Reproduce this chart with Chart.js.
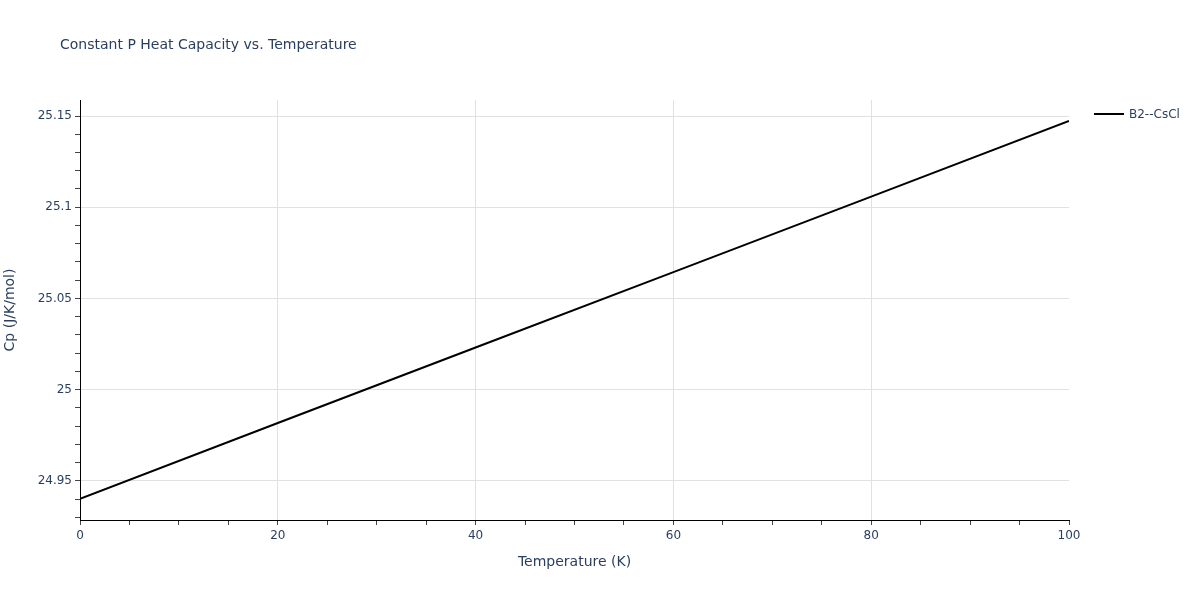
<!DOCTYPE html>
<html>
<head>
<meta charset="utf-8">
<script src="https://cdn.jsdelivr.net/npm/chart.js@4/dist/chart.umd.min.js"></script>
<style>
    body { margin: 0; background: #fff; }
    #wrap { position: relative; width: 1200px; height: 600px; font-family: "DejaVu Sans", sans-serif; color: #2a3f5f; }
    #title { position: absolute; left: 60px; top: 36px; font-size: 14px; white-space: nowrap; }
    #legend { position: absolute; left: 1094px; top: 106px; font-size: 12px; white-space: nowrap; }
    #legend span.swatch { display: inline-block; width: 30px; height: 2px; background: #000; vertical-align: middle; margin-right: 5px; }
    #legend span.label { vertical-align: middle; }
</style>
</head>
<body>
<div id="wrap">
    <canvas id="cpChart" width="1200" height="600"></canvas>
    <div id="title">Constant P Heat Capacity vs. Temperature</div>
    <div id="legend"><span class="swatch"></span><span class="label">B2--CsCl</span></div>
</div>
<script>
// values
const temperatures = [0, 20, 40, 60, 80, 100];
const cpValues = [24.9401, 24.9817, 25.0231, 25.0644, 25.1058, 25.1473];
const seriesName = "B2--CsCl";

const xTicks = [];
for (let t = 0; t <= 100; t += 5) xTicks.push(t);
const yTicks = [];
for (let k = 2493; k <= 2515; k++) yTicks.push(k / 100);

const textColor = "#2a3f5f";
const gridColor = "#e1e1e1";

function isMult(v, step) {
    return Math.abs(Math.round(v / step) * step - v) < 1e-6;
}

const points = temperatures.map((t, i) => ({ x: t, y: cpValues[i] }));

new Chart(document.getElementById("cpChart"), {
    type: "line",
    data: {
        datasets: [{
            label: seriesName,
            data: points,
            borderColor: "#000",
            borderWidth: 2,
            pointRadius: 0,
            tension: 0,
            fill: false
        }]
    },
    options: {
        responsive: false,
        animation: false,
        layout: { padding: { top: 100, right: 131, bottom: 0, left: 0 } },
        plugins: {
            legend: { display: false },
            title: { display: false },
            tooltip: { enabled: false }
        },
        scales: {
            x: {
                type: "linear",
                min: 0, max: 100,
                afterFit: s => { s.height = 80; },
                afterBuildTicks: s => { s.ticks = xTicks.map(v => ({ value: v })); },
                border: { color: "#000", width: 1 },
                grid: {
                    color: c => (c.tick && isMult(c.tick.value, 20) && c.tick.value > 0 && c.tick.value < 100) ? gridColor : "rgba(0,0,0,0)",
                    tickColor: "#444",
                    tickLength: 5
                },
                ticks: {
                    autoSkip: false,
                    maxRotation: 0,
                    padding: 4,
                    color: textColor,
                    font: { family: "DejaVu Sans", size: 12 },
                    callback: v => isMult(v, 20) ? String(v) : ""
                },
                title: {
                    display: true,
                    text: "Temperature (K)",
                    color: textColor,
                    font: { family: "DejaVu Sans", size: 14 },
                    padding: { top: 0, bottom: 29 }
                }
            },
            y: {
                type: "linear",
                min: 24.9285, max: 25.1588,
                afterFit: s => { s.width = 80; },
                afterBuildTicks: s => { s.ticks = yTicks.map(v => ({ value: v })); },
                border: { color: "#000", width: 1 },
                grid: {
                    color: c => (c.tick && isMult(c.tick.value, 0.05)) ? gridColor : "rgba(0,0,0,0)",
                    tickColor: "#444",
                    tickLength: 5
                },
                ticks: {
                    autoSkip: false,
                    padding: 3,
                    color: textColor,
                    font: { family: "DejaVu Sans", size: 12 },
                    callback: v => isMult(v, 0.05) ? String(parseFloat(v.toFixed(2))) : ""
                },
                title: {
                    display: true,
                    text: "Cp (J/K/mol)",
                    color: textColor,
                    font: { family: "DejaVu Sans", size: 14 },
                    padding: { top: 2, bottom: 0 }
                }
            }
        }
    }
});
</script>
</body>
</html>
